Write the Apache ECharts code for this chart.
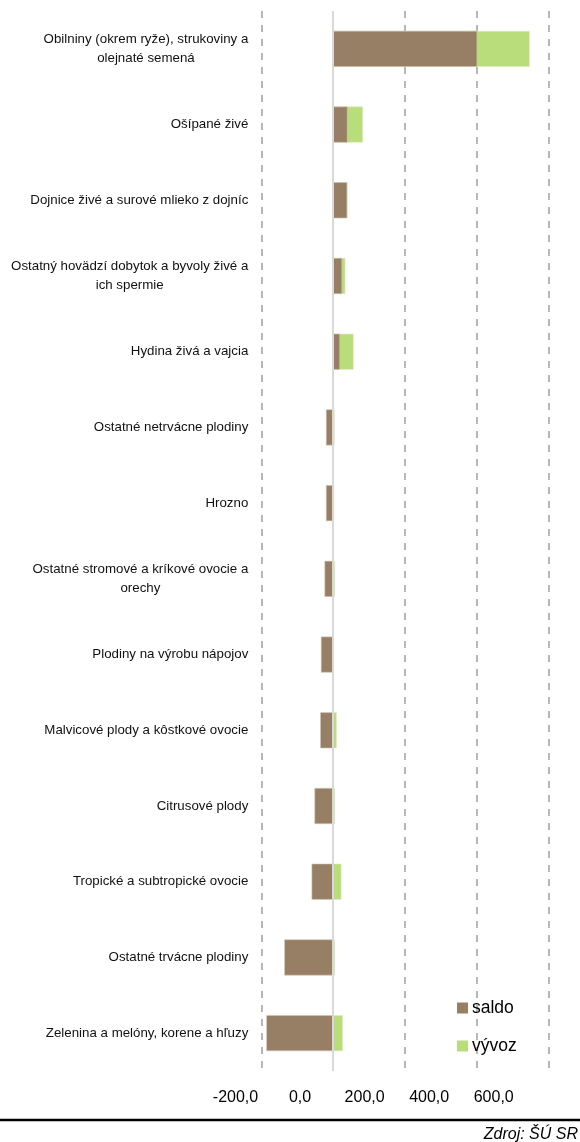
<!DOCTYPE html>
<html>
<head>
<meta charset="utf-8">
<script src="https://cdn.jsdelivr.net/npm/echarts@6/dist/echarts.min.js"></script>
<style>
  html, body { margin: 0; padding: 0; background: #fff; }
  #chart { width: 580px; height: 1142px; }
</style>
</head>
<body>
<div id="chart"></div>
<script>
// categories, top to bottom
const categories = [
  "Obilniny (okrem ryže), strukoviny a\nolejnaté semená",
  "Ošípané živé",
  "Dojnice živé a surové mlieko z dojníc",
  "Ostatný hovädzí dobytok a byvoly živé a\nich spermie",
  "Hydina živá a vajcia",
  "Ostatné netrvácne plodiny",
  "Hrozno",
  "Ostatné stromové a kríkové ovocie a\norechy",
  "Plodiny na výrobu nápojov",
  "Malvicové plody a kôstkové ovocie",
  "Citrusové plody",
  "Tropické a subtropické ovocie",
  "Ostatné trvácne plodiny",
  "Zelenina a melóny, korene a hľuzy"
];
const saldo = [401, 40, 39, 25, 19, -20, -20, -24, -34, -36, -52, -60, -136, -186];
const vyvoz = [547, 83, 40, 34, 57, 4, 3, 5, 2, 10, 5, 23, 5, 27];
const xTicks = [-200, 0, 200, 400, 600];

const FONT = "'Liberation Sans', Arial, sans-serif";

const chart = echarts.init(document.getElementById("chart"));

chart.setOption({
  animation: false,
  textStyle: { fontFamily: FONT },
  grid: [
    { left: 261.3, right: 31.3, top: 11, bottom: 71 },
    // label-only grid, the source's tick labels sit left of the grid lines
    { left: 235.5, right: 86.3, top: 11, bottom: 71 }
  ],
  legend: {
    orient: "vertical",
    left: 457,
    top: 999,
    padding: 0,
    itemWidth: 11,
    itemHeight: 11,
    itemGap: 20,
    icon: "rect",
    data: ["saldo", "vývoz"],
    itemStyle: { borderWidth: 0 },
    textStyle: { fontSize: 17.5, color: "#000", fontFamily: FONT, padding: [0, 0, 0, -1] }
  },
  title: {
    text: "Zdroj: ŠÚ SR",
    right: 2,
    top: 1127,
    padding: 0,
    textStyle: { fontSize: 16, fontStyle: "italic", fontWeight: "normal", color: "#000", fontFamily: FONT }
  },
  graphic: [
    {
      type: "line",
      shape: { x1: 0, y1: 1120, x2: 580, y2: 1120 },
      style: { stroke: "#000", lineWidth: 2.5 }
    }
  ],
  xAxis: [
    {
      type: "value",
      gridIndex: 0,
      min: xTicks[0],
      max: xTicks[xTicks.length - 1],
      interval: 200,
      axisLine: { show: false },
      axisTick: { show: false },
      axisLabel: { show: false },
      splitLine: {
        show: true,
        lineStyle: { color: "#a6a6a6", width: 1.6, type: [7, 7] }
      }
    },
    {
      type: "value",
      gridIndex: 1,
      min: xTicks[0],
      max: xTicks[xTicks.length - 1],
      interval: 200,
      axisLine: { show: false },
      axisTick: { show: false },
      splitLine: { show: false },
      axisLabel: {
        margin: 19,
        fontSize: 16,
        color: "#000",
        fontFamily: FONT,
        formatter: v => v.toFixed(1).replace(".", ",")
      }
    }
  ],
  yAxis: [
    {
      type: "category",
      gridIndex: 0,
      inverse: true,
      data: categories,
      axisLine: { show: false },
      axisTick: { show: false },
      axisLabel: {
        margin: 13,
        align: "right",
        color: "#111",
        fontSize: 13.3,
        lineHeight: 18.5,
        fontFamily: FONT,
        formatter: v => v.split("\n").map(s => "{c|" + s + "}").join("\n"),
        rich: {
          c: { align: "center", fontSize: 13.3, lineHeight: 18.5, color: "#111", fontFamily: FONT }
        }
      }
    },
    { type: "category", gridIndex: 1, show: false, data: categories }
  ],
  series: [
    {
      name: "vývoz",
      type: "bar",
      xAxisIndex: 0,
      yAxisIndex: 0,
      data: vyvoz,
      barWidth: 36,
      barGap: "-100%",
      z: 2,
      itemStyle: { color: "#b8dd7a", borderColor: "#dcefc0", borderWidth: 0.6 }
    },
    {
      name: "saldo",
      type: "bar",
      xAxisIndex: 0,
      yAxisIndex: 0,
      data: saldo,
      barWidth: 36,
      barGap: "-100%",
      z: 3,
      itemStyle: { color: "#977f65", borderColor: "#cfc3b5", borderWidth: 0.6 },
      markLine: {
        silent: true,
        symbol: "none",
        label: { show: false },
        lineStyle: { color: "#d9d9d9", width: 2, type: "solid" },
        data: [{ xAxis: 0 }]
      }
    }
  ]
});
</script>
</body>
</html>
